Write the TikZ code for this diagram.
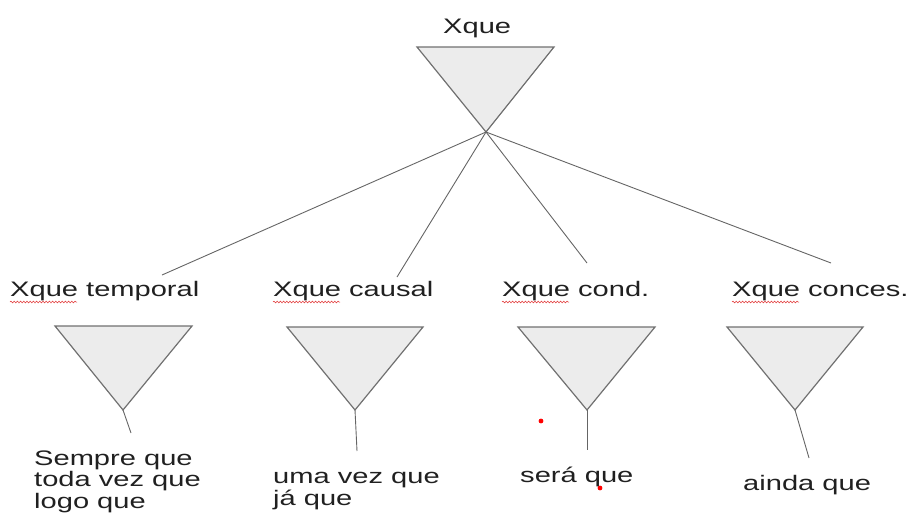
\documentclass[tikz,border=0pt]{standalone}
\usepackage{fontspec}
\setmainfont[FakeStretch=1.385]{Liberation Sans}
\usetikzlibrary{decorations.pathmorphing}
\definecolor{txt}{HTML}{202020}
\definecolor{edge}{HTML}{707070}
\definecolor{tri}{HTML}{ECECEC}
\definecolor{spell}{HTML}{E03030}
\begin{document}
\begin{tikzpicture}[x=1pt,y=-1pt,
  lbl/.style={anchor=base west,inner sep=0pt,font=\fontsize{21}{21.5}\selectfont,text=txt,align=left},
  trishape/.style={draw=edge,fill=tri,line width=1.2pt,line join=miter},
  conn/.style={draw=edge!90!black,line width=0.9pt},
  squig/.style={draw=spell,line width=0.5pt,decorate,decoration={snake,amplitude=0.9pt,segment length=3.2pt}},
  dotred/.style={fill=red,draw=none}]
\useasboundingbox (0,0) rectangle (909,520);
% top
\node[lbl] (top) at (443,33) {Xque};
\coordinate (tA) at (417,47); \coordinate (tB) at (554,47); \coordinate (tC) at (486,132);
\path[trishape] (tA) -- (tB) -- (tC) -- cycle;
% endpoints of connectors
\coordinate (e1) at (162,275);
\coordinate (e2) at (397,277);
\coordinate (e3) at (587,263);
\coordinate (e4) at (831,263);
\foreach \e in {e1,e2,e3,e4} \draw[conn] (tC) -- (\e);
% category labels
\node[lbl] (l1) at (10,296) {Xque temporal};
\node[lbl] (l2) at (273,296) {Xque causal};
\node[lbl] (l3) at (502,296) {Xque cond.};
\node[lbl] (l4) at (732,296) {Xque conces.};
\draw[squig] (10,302) -- (77,302);
\draw[squig] (273,302) -- (340,302);
\draw[squig] (502,302) -- (569,302);
\draw[squig] (732,302) -- (799,302);
% bottom triangles
\coordinate (a1) at (55,326);  \coordinate (b1) at (192,326); \coordinate (c1) at (123,410); \coordinate (s1) at (131,433);
\coordinate (a2) at (287,327); \coordinate (b2) at (423,327); \coordinate (c2) at (355,410); \coordinate (s2) at (357,451);
\coordinate (a3) at (518,327); \coordinate (b3) at (655,327); \coordinate (c3) at (587,410); \coordinate (s3) at (587,450);
\coordinate (a4) at (727,327); \coordinate (b4) at (863,327); \coordinate (c4) at (795,410); \coordinate (s4) at (809,458);
\foreach \i in {1,2,3,4}{
  \path[trishape] (a\i) -- (b\i) -- (c\i) -- cycle;
  \draw[conn] (c\i) -- (s\i);
}
% leaf texts (base anchor = baseline of last line)
\node[lbl] (w1) at (34,508) {Sempre que\\toda vez que\\logo que};
\node[lbl] (w2) at (273,505) {uma vez que\\já que};
\node[lbl] (w3) at (520,482) {será que};
\node[lbl] (w4) at (743,490) {ainda que};
% red dots
\fill[dotred] (541,421) circle (2.4);
\fill[dotred] (600,488) circle (2.4);
\end{tikzpicture}
\end{document}
